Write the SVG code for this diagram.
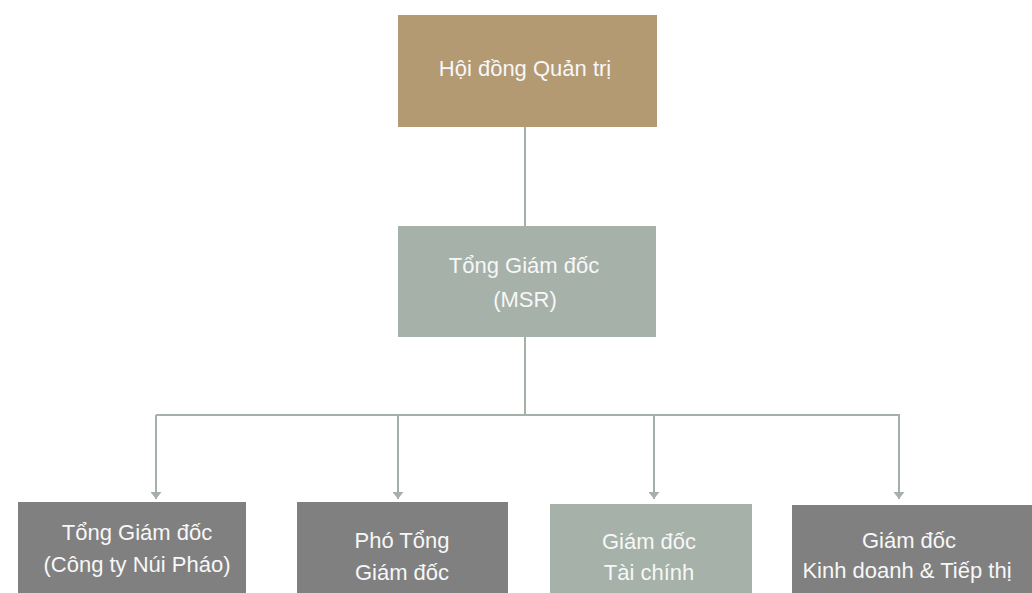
<svg xmlns="http://www.w3.org/2000/svg" width="1032" height="593" viewBox="0 0 1032 593">
<style>
.t{font-family:"Liberation Sans",Arial,sans-serif;font-size:22px;fill:#F7F7F7;text-anchor:middle}
.c{stroke:#A5B0A9;stroke-width:2;fill:none}
</style>
<defs>
<marker id="ah" markerWidth="7" markerHeight="11" refX="7" refY="5.5" orient="auto" markerUnits="userSpaceOnUse" viewBox="0 0 7 11">
<path d="M0,0 L7,5.5 L0,11 Z" fill="#A5B0A9"/>
</marker>
</defs>
<rect width="1032" height="593" fill="#FFFFFF"/>
<g id="connectors">
<path class="c" d="M525,127 V226"/>
<path class="c" d="M525,337 V415"/>
<path class="c" d="M156,415 H900"/>
<path class="c" d="M156,415 V499" marker-end="url(#ah)"/>
<path class="c" d="M398,415 V499" marker-end="url(#ah)"/>
<path class="c" d="M654,415 V499" marker-end="url(#ah)"/>
<path class="c" d="M899,415 V499" marker-end="url(#ah)"/>
</g>
<g id="hdqt">
<rect x="398" y="15" width="259" height="112" fill="#B39A73"/>
<text class="t" x="525" y="76">Hội đồng Quản trị</text>
</g>
<g id="tgd-msr">
<rect x="398" y="226" width="258" height="111" fill="#A6B1AA"/>
<text class="t" x="524" y="273">Tổng Giám đốc</text>
<text class="t" x="525" y="307">(MSR)</text>
</g>
<g id="tgd-nuiphao">
<rect x="18" y="502" width="228" height="91" fill="#808080"/>
<text class="t" x="137" y="540">Tổng Giám đốc</text>
<text class="t" x="137" y="572">(Công ty Núi Pháo)</text>
</g>
<g id="pho-tgd">
<rect x="297" y="502" width="211" height="91" fill="#808080"/>
<text class="t" x="402" y="548">Phó Tổng</text>
<text class="t" x="402" y="580">Giám đốc</text>
</g>
<g id="gd-taichinh">
<rect x="550" y="504" width="202" height="89" fill="#A6B1AA"/>
<text class="t" x="649" y="549">Giám đốc</text>
<text class="t" x="649" y="580">Tài chính</text>
</g>
<g id="gd-kinhdoanh">
<rect x="792" y="505" width="240" height="88" fill="#808080"/>
<text class="t" x="909" y="548">Giám đốc</text>
<text class="t" x="907" y="578">Kinh doanh &amp; Tiếp thị</text>
</g>
</svg>
